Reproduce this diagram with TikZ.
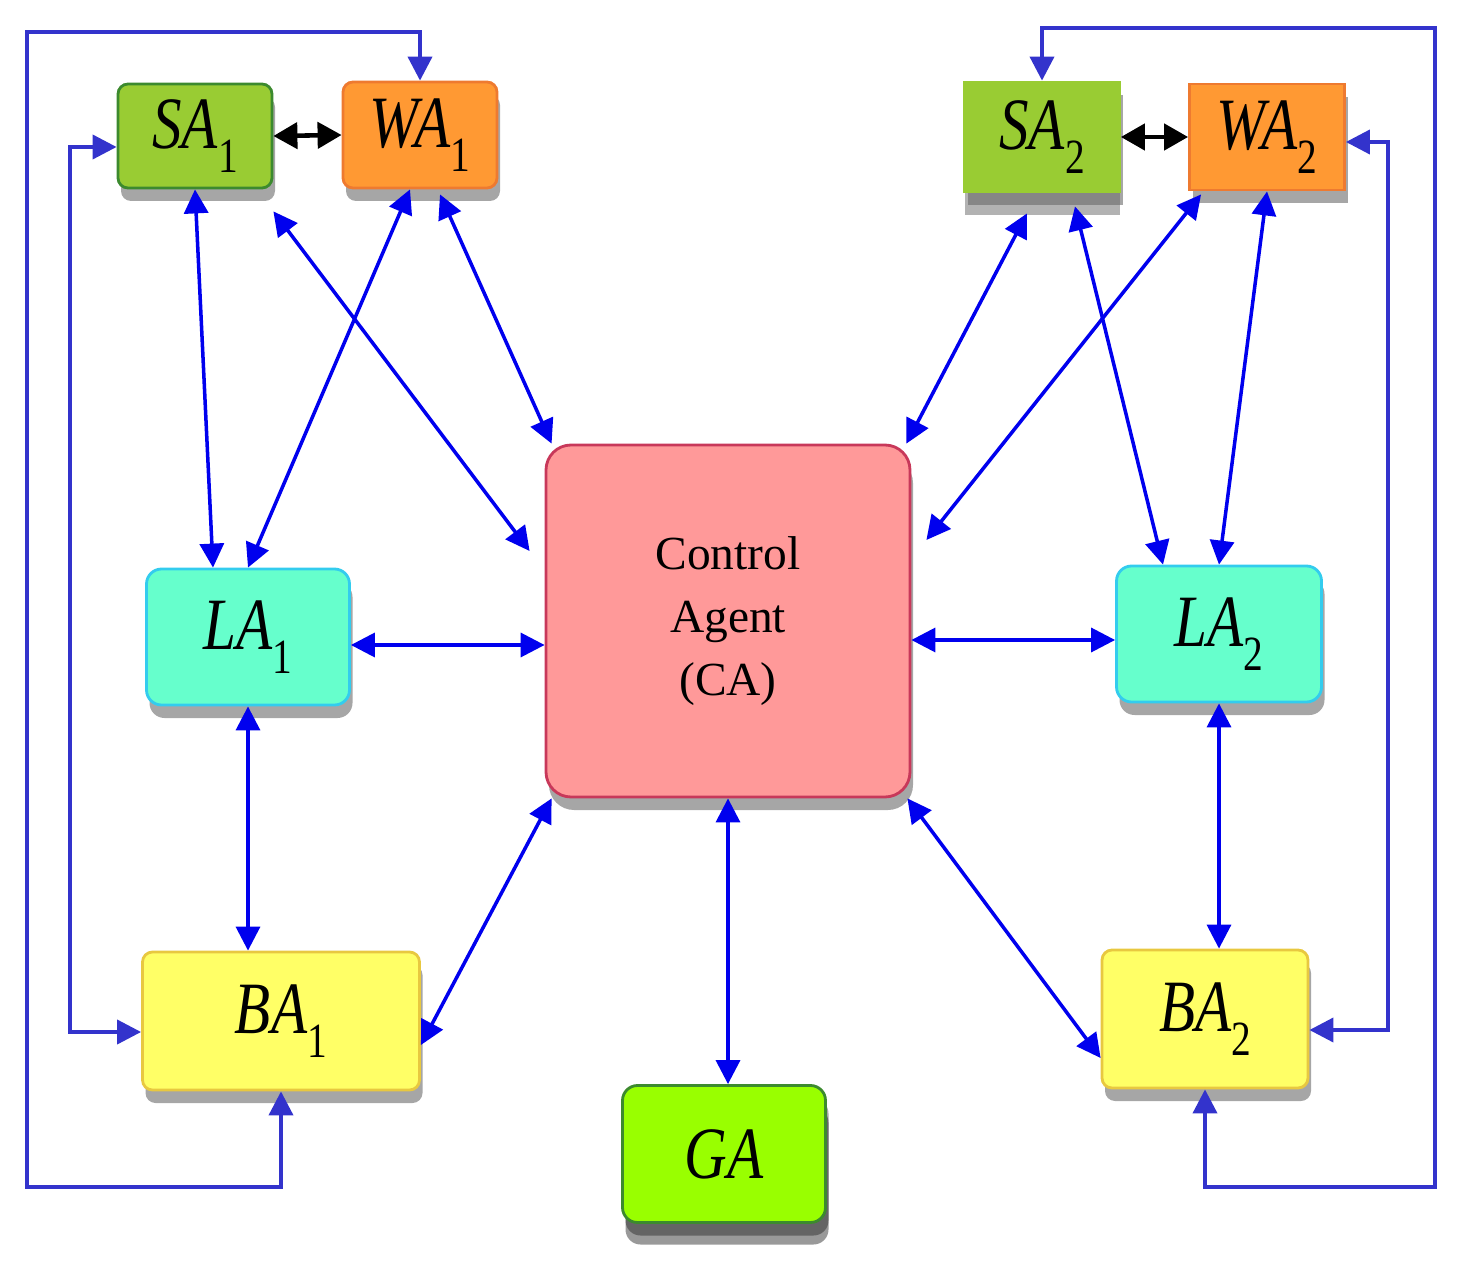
\documentclass[tikz,border=0pt]{standalone}
\usepackage{fontspec}
\setmainfont{Liberation Serif}
\usetikzlibrary{arrows.meta,calc,positioning,shadows}
\definecolor{sagreen}{HTML}{99CC33}
\definecolor{saedge}{HTML}{3C8A2E}
\definecolor{waorange}{HTML}{FF9933}
\definecolor{waedge}{HTML}{EE7A30}
\definecolor{capink}{HTML}{FF9999}
\definecolor{caedge}{HTML}{C8385A}
\definecolor{laaqua}{HTML}{66FFCC}
\definecolor{laedge}{HTML}{33CCEE}
\definecolor{bayellow}{HTML}{FFFF66}
\definecolor{baedge}{HTML}{E8C840}
\definecolor{galime}{HTML}{99FF00}
\definecolor{linkblue}{HTML}{0000EE}
\definecolor{backblue}{HTML}{3333CC}
\tikzset{
link/.style={<->,>={Triangle[length=2.4mm,width=2.4mm]},line width=1pt,draw=linkblue},
backlink/.style={link,draw=backblue,line width=1.1pt},
pairlink/.style={<->,>={Triangle[length=2.4mm,width=2.6mm]},line width=1.3pt,black},
agent/.style={draw,rounded corners=1mm,line width=0.8pt,font=\fontsize{21}{22}\selectfont,
  drop shadow={shadow xshift=0.3mm,shadow yshift=-1.3mm,opacity=0.35,fill=black}}
}
\newcommand{\agentlbl}[2]{\scalebox{0.8}[1]{\textit{#1}\raisebox{-0.7ex}{\fontsize{14}{14}\selectfont #2}}}

\begin{document}
\begin{tikzpicture}[x=0.1mm,y=-0.1mm]
	\useasboundingbox (0,0) rectangle (1465,1281);
	% agents
	\node[agent,fill=sagreen,draw=saedge,minimum width=15.4mm,minimum height=10.4mm] (sa1) at (195,136) {\agentlbl{SA}{1}};
	\node[agent,fill=waorange,draw=waedge,minimum width=15.4mm,minimum height=10.6mm] (wa1) at (420,135) {\agentlbl{WA}{1}};
	\node[agent,fill=sagreen,draw=sagreen,rounded corners=0mm,minimum width=15.5mm,minimum height=11mm,
	  drop shadow={shadow xshift=0mm,shadow yshift=-2.3mm,opacity=0.5,fill=gray!80!black}] (sa2) at (1042,137) {\agentlbl{SA}{2}};
	\node[agent,fill=waorange,draw=waedge,rounded corners=0mm,minimum width=15.5mm,minimum height=10.6mm] (wa2) at (1267,137) {\agentlbl{WA}{2}};
	\node[agent,fill=capink,draw=caedge,rounded corners=2.5mm,minimum width=36.4mm,minimum height=35.2mm,
	  align=center,font=\fontsize{13.5}{18}\selectfont] (ca) at (728,621) {Control\\Agent\\(CA)};
	\node[agent,fill=laaqua,draw=laedge,rounded corners=1.5mm,minimum width=20.3mm,minimum height=13.6mm] (la1) at (248,637) {\agentlbl{LA}{1}};
	\node[agent,fill=laaqua,draw=laedge,rounded corners=1.5mm,minimum width=20.5mm,minimum height=13.6mm] (la2) at (1219,634) {\agentlbl{LA}{2}};
	\node[agent,fill=bayellow,draw=baedge,minimum width=27.7mm,minimum height=13.8mm] (ba1) at (281,1021) {\agentlbl{BA}{1}};
	\node[agent,fill=bayellow,draw=baedge,minimum width=20.6mm,minimum height=13.8mm] (ba2) at (1205,1019) {\agentlbl{BA}{2}};
	\node[agent,fill=galime,draw=saedge,rounded corners=1.5mm,minimum width=20.3mm,minimum height=13.7mm,
	  drop shadow={shadow xshift=0.3mm,shadow yshift=-2.2mm,opacity=0.4,fill=black}] (ga) at (724,1154) {\scalebox{0.8}[1]{\textit{GA}}};

	% corners of the outer loops
	\coordinate (lbl) at (27,1187);
	\coordinate (ltl) at (27,32);
	\coordinate (lil) at (70,600);
	\coordinate (rtr) at (1435,28);
	\coordinate (rbr) at (1435,1187);
	\coordinate (ril) at (1388,600);

	% pairs
	\draw[pairlink] (sa1.east) -- (wa1.west);
	\draw[pairlink] (sa2.east) -- (wa2.west);

	% left side
	\draw[link] (sa1.south) -- ([xshift=-3.5mm]la1.north);
	\draw[link] ([xshift=-1mm]wa1.south) -- (la1.north);
	\draw[link] ([yshift=-2.2mm]sa1.south east) -- ([xshift=-1.5mm,yshift=7mm]ca.west);
	\draw[link] ([xshift=2mm,yshift=-0.5mm]wa1.south) -- ([xshift=0.7mm]ca.north west);
	\draw[link] ([yshift=-0.8mm]la1.east) -- ([yshift=-0.8mm]la1.east -| ca.west);
	\draw[link] (la1.south) -- (la1.south |- ba1.north);
	\draw[link] ([yshift=-2.4mm]ba1.east) -- ([xshift=0.7mm]ca.south west);
	\draw[backlink] (ba1.south) |- (lbl) -- (ltl) -| (wa1.north);
	\draw[backlink] ([yshift=-1.1mm]sa1.west) -| (lil) |- ([yshift=-1.1mm]ba1.west);

	% bottom
	\draw[link] (ca.south) -- (ca.south |- ga.north);

	% right side
	\draw[link] ([xshift=-1.5mm,yshift=-2mm]sa2.south) -- ([xshift=-0.5mm]ca.north east);
	\draw[link] ([xshift=1.3mm,yshift=-0.3mm]wa2.south west) -- ([xshift=1.5mm,yshift=8.1mm]ca.east);
	\draw[link] ([xshift=3.3mm,yshift=-1.3mm]sa2.south) -- ([xshift=-5.6mm]la2.north);
	\draw[link] (wa2.south) -- (la2.north);
	\draw[link] ([yshift=-1.9mm]ca.east) -- ([yshift=-1.9mm]ca.east -| la2.west);
	\draw[link] (la2.south) -- (la2.south |- ba2.north);
	\draw[link] ([xshift=-0.4mm]ca.south east) -- ([yshift=-3.9mm]ba2.west);
	\draw[backlink] (sa2.north) |- (rtr) -- (rbr) -| (ba2.south);
	\draw[backlink] ([yshift=-0.5mm]wa2.east) -| (ril) |- ([yshift=-1.1mm]ba2.east);
\end{tikzpicture}
\end{document}
